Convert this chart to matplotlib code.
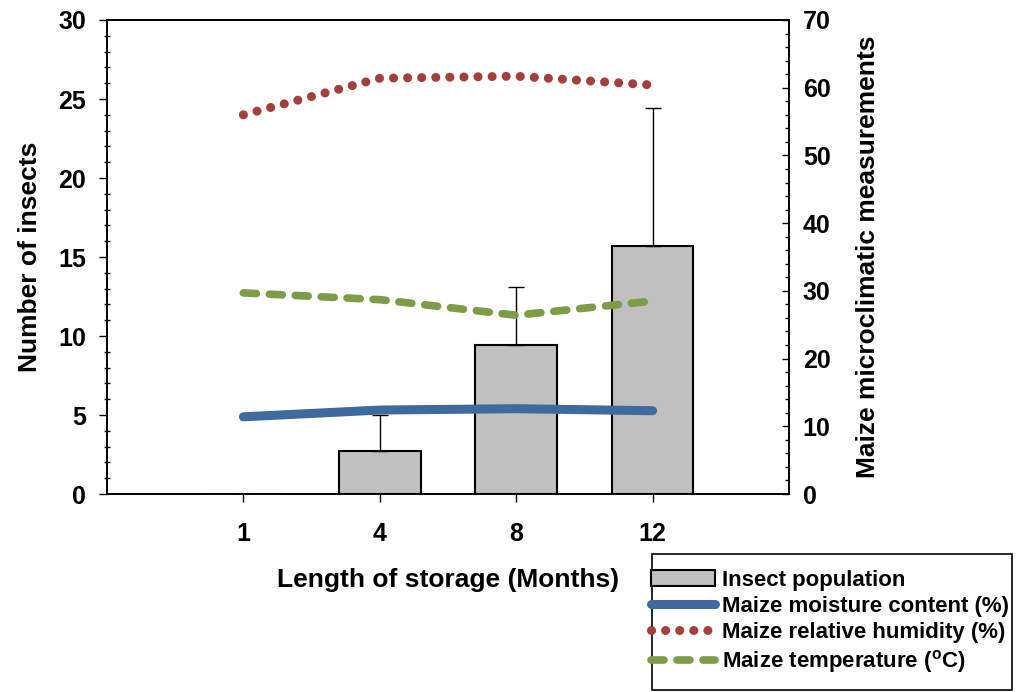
import matplotlib
matplotlib.use('Agg')
import matplotlib.pyplot as plt
from matplotlib.patches import Rectangle
from matplotlib.ticker import MultipleLocator
import numpy as np

plt.rcParams['font.family'] = ['Liberation Sans', 'DejaVu Sans']
plt.rcParams['font.weight'] = 'bold'

# data
months = ['1', '4', '8', '12']
insects = [0.0, 2.7, 9.4, 15.7]
insects_err = [0.0, 2.3, 3.7, 8.7]
moisture = [11.4, 12.4, 12.6, 12.3]
humidity = [56.0, 61.4, 61.7, 60.4]
temperature = [29.7, 28.7, 26.4, 28.5]

blue = '#3E6A9E'
red = '#A33F3C'
green = '#7E9B48'

fig = plt.figure(figsize=(10.2, 6.92), dpi=100)
ax = fig.add_axes([0.1049, 0.2861, 0.6686, 0.685])
ax2 = ax.twinx()

x = np.arange(len(months))
bars = ax.bar(x, insects, width=0.6, color='#C0C0C0', edgecolor='black',
              linewidth=1.5, label='Insect population', zorder=2)
ax.errorbar(x, insects, yerr=[np.zeros(len(x)), insects_err], fmt='none',
            ecolor='black', elinewidth=1, capsize=5.5, capthick=1, zorder=3)

ax.set_xlim(-1, 4)
ax.set_ylim(0, 30)
ax.set_xticks(x)
ax.set_xticklabels(months)
ax.yaxis.set_major_locator(MultipleLocator(5))
ax.yaxis.set_minor_locator(MultipleLocator(1))
ax.tick_params(axis='x', direction='out', length=6, width=1, pad=14, labelsize=18)
ax.tick_params(axis='y', which='major', direction='out', length=6, width=1, labelsize=18, pad=9)
ax.tick_params(axis='y', which='minor', direction='inout', length=4, width=1)
ax.set_xlabel('Length of storage (Months)', fontsize=19, fontweight='bold', labelpad=16)
ax.set_ylabel('Number of insects', fontsize=19, fontweight='bold', labelpad=12)

l1, = ax2.plot(x, moisture, color=blue, linewidth=6.5, solid_capstyle='round',
               label='Maize moisture content (%)')
l2, = ax2.plot(x, humidity, color=red, linewidth=6.5, linestyle=(0, (0.01, 1.55)),
               dash_capstyle='round', label='Maize relative humidity (%)')
l3, = ax2.plot(x, temperature, color=green, linewidth=5.5, linestyle=(0, (1.7, 1.7)),
               dash_capstyle='round', label='Maize temperature ($\\mathregular{^oC}$)')
ax2.set_ylim(0, 70)
ax2.yaxis.set_major_locator(MultipleLocator(10))
ax2.yaxis.set_minor_locator(MultipleLocator(2))
ax2.tick_params(axis='y', which='major', direction='in', length=5, width=1, labelsize=18, pad=10)
ax2.tick_params(axis='y', which='minor', direction='in', length=3, width=1)
ax2.set_ylabel('Maize microclimatic measurements', fontsize=19, fontweight='bold', labelpad=18)

for a in (ax, ax2):
    for s in a.spines.values():
        s.set_linewidth(1.2)
for lab in ax.get_xticklabels() + ax.get_yticklabels() + ax2.get_yticklabels():
    lab.set_fontweight('bold')

# legend box sits below the plot, right side
fig.patches.append(Rectangle((652 / 1020, 2 / 692), 360 / 1020, 136 / 692,
                             transform=fig.transFigure, fill=False,
                             edgecolor='black', linewidth=1.2))
leg = fig.legend([bars, l1, l2, l3],
                 [bars.get_label(), l1.get_label(), l2.get_label(), l3.get_label()],
                 loc='upper left', bbox_to_anchor=(651 / 1020, 1 - 570 / 692), frameon=False,
                 fontsize=16, handlelength=2.9, handletextpad=0.3, labelspacing=0.23,
                 borderpad=0, borderaxespad=0)
for t in leg.get_texts():
    t.set_fontweight('bold')

fig.savefig('out.png', dpi=100)
